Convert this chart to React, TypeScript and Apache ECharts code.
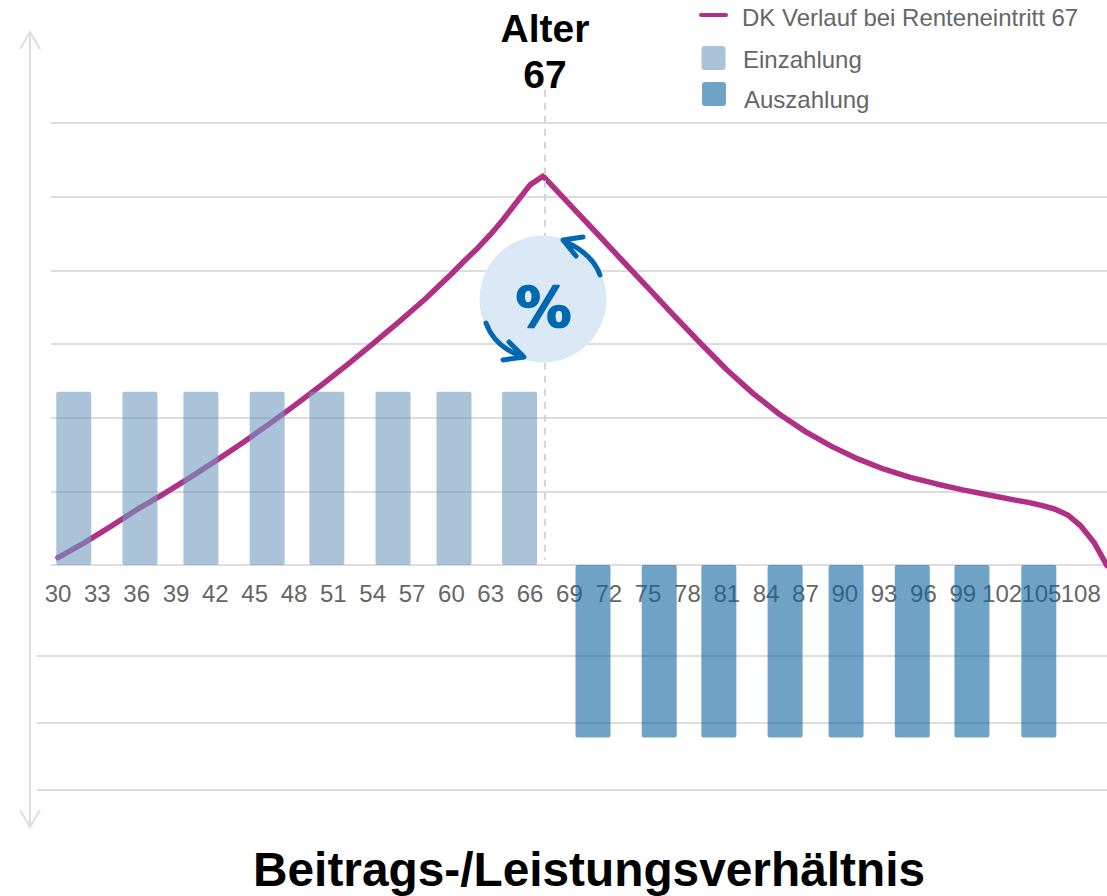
import React, { useEffect, useRef } from "react";
import * as echarts from "echarts";

const lineAges = [30,32,34,36,38,40,42,44,46,48,50,52,54,56,58,60,61,62,63,64,65,66,67,68,69,71,73,75,77,79,81,83,85,87,89,91,93,95,97,99,101,103,104,105,106,107,108,109,110];
const lineValues = [0.10,0.30,0.52,0.75,0.96,1.18,1.41,1.65,1.90,2.16,2.43,2.71,3.00,3.30,3.61,3.95,4.13,4.30,4.49,4.70,4.93,5.16,5.28,5.09,4.90,4.52,4.14,3.76,3.38,3.01,2.65,2.33,2.05,1.81,1.61,1.44,1.30,1.19,1.10,1.02,0.95,0.88,0.85,0.81,0.76,0.68,0.53,0.31,-0.01];
const payInAges = [31.2,36.25,40.9,45.95,50.5,55.55,60.2,65.2];
const payInValue = 2.35;
const payOutAges = [70.8,75.85,80.4,85.45,90.1,95.15,99.7,104.8];
const payOutValue = -2.34;
const LINE_NAME = "DK Verlauf bei Renteneintritt 67";
const IN_NAME = "Einzahlung";
const OUT_NAME = "Auszahlung";
const TITLE = "Beitrags-/Leistungsverhältnis";

const FONT = "'Liberation Sans', Arial, sans-serif";
const GRID = "#dddddd";
const BLUE = "#0067b1";

export default function App() {
  const ref = useRef<HTMLDivElement>(null);
  useEffect(() => {
    document.body.style.margin = "0";
    const chart = echarts.init(ref.current!, undefined, { renderer: "svg" });
    const arrowStyle = { stroke: BLUE, lineWidth: 5, lineCap: "round", lineJoin: "round", fill: "none" };
    const axisStyle = { stroke: GRID, lineWidth: 2, fill: "none" };
    const legendText = (text: string, x: number, y: number) => ({
      type: "text", z: 10,
      style: { text, x, y, fill: "#666666", font: `24px ${FONT}`, align: "left", verticalAlign: "middle" },
    });
    chart.setOption({
      animation: false,
      backgroundColor: "#ffffff",
      textStyle: { fontFamily: FONT },
      title: {
        text: TITLE,
        left: 584,
        top: 840,
        textAlign: "center",
        textStyle: { fontFamily: FONT, fontSize: 47.8, fontWeight: "bold", color: "#000000" },
      },
      grid: [
        { left: 58, right: 0, top: 49.3, height: 736.7 },
        { left: 51, right: 0, top: 123, height: 442 },
        { left: 37, right: 0, top: 656, height: 134 },
      ],
      xAxis: [
        {
          gridIndex: 0,
          type: "value",
          min: 30,
          max: 110,
          interval: 3,
          z: 1,
          position: "bottom",
          offset: -221,
          axisLine: { show: false, onZero: false },
          axisTick: { show: false },
          splitLine: { show: false },
          axisLabel: { color: "#666666", fontSize: 24, fontFamily: FONT, margin: 16, showMaxLabel: false },
        },
        { gridIndex: 1, type: "value", min: 0, max: 1, show: false },
        { gridIndex: 2, type: "value", min: 0, max: 1, show: false },
      ],
      yAxis: [
        { gridIndex: 0, type: "value", min: -3, max: 7, show: false, splitLine: { show: false } },
        {
          gridIndex: 1, type: "value", min: 0, max: 6, interval: 1,
          axisLine: { show: false }, axisTick: { show: false }, axisLabel: { show: false },
          splitLine: { show: true, lineStyle: { color: GRID, width: 2 } },
        },
        {
          gridIndex: 2, type: "value", min: 0, max: 2, interval: 1,
          axisLine: { show: false }, axisTick: { show: false }, axisLabel: { show: false },
          splitLine: { show: true, lineStyle: { color: GRID, width: 2 } },
        },
      ],
      series: [
        {
          name: LINE_NAME,
          type: "line",
          xAxisIndex: 0,
          yAxisIndex: 0,
          z: 2,
          smooth: false,
          showSymbol: false,
          symbol: "none",
          clip: false,
          data: lineAges.map((a, i) => [a, lineValues[i]]),
          itemStyle: { color: "#af3085" },
          lineStyle: { color: "#af3085", width: 5.5, cap: "round", join: "round" },
          markLine: {
            silent: true,
            symbol: "none",
            label: { show: false },
            lineStyle: { color: "#d4d4d4", width: 2, type: [7, 6] },
            data: [[{ coord: [67.1, 6.45] }, { coord: [67.1, 0.07] }]],
          },
        },
        {
          name: IN_NAME,
          type: "bar",
          xAxisIndex: 0,
          yAxisIndex: 0,
          z: 3,
          barWidth: 35,
          barGap: "-100%",
          data: payInAges.map((a) => [a, payInValue]),
          itemStyle: { color: "#719bc0", opacity: 0.6, borderRadius: 2 },
        },
        {
          name: OUT_NAME,
          type: "bar",
          xAxisIndex: 0,
          yAxisIndex: 0,
          z: 3,
          barWidth: 35,
          barGap: "-100%",
          data: payOutAges.map((a) => [a, payOutValue]),
          itemStyle: { color: "#0f66a0", opacity: 0.6, borderRadius: 2 },
        },
      ],
      graphic: [
        { type: "line", z: 1, shape: { x1: 30, y1: 33, x2: 30, y2: 827 }, style: axisStyle },
        { type: "polyline", z: 1, shape: { points: [[20, 49], [30, 32], [40, 49]] }, style: axisStyle },
        { type: "polyline", z: 1, shape: { points: [[20, 810], [30, 827], [40, 810]] }, style: axisStyle },
        { type: "line", z: 10, shape: { x1: 701, y1: 15, x2: 726, y2: 15 }, style: { stroke: "#af3085", lineWidth: 4, lineCap: "round" } },
        legendText(LINE_NAME, 742, 17),
        { type: "rect", z: 10, shape: { x: 701.5, y: 46, width: 24, height: 24, r: 3 }, style: { fill: "#aac3d9" } },
        legendText(IN_NAME, 743, 59),
        { type: "rect", z: 10, shape: { x: 702, y: 82, width: 24, height: 24, r: 3 }, style: { fill: "#6fa3c6" } },
        legendText(OUT_NAME, 744, 99),
        { type: "text", z: 10, style: { text: "Alter", x: 545, y: 28, fill: "#000000", font: `bold 39px ${FONT}`, align: "center", verticalAlign: "middle" } },
        { type: "text", z: 10, style: { text: "67", x: 545, y: 74, fill: "#000000", font: `bold 39px ${FONT}`, align: "center", verticalAlign: "middle" } },
        { type: "circle", z: 10, shape: { cx: 543, cy: 299, r: 63.5 }, style: { fill: "#dbe8f5" } },
        { type: "text", z: 11, style: { text: "%", x: 543.5, y: 306, fill: BLUE, stroke: BLUE, lineWidth: 1.5, font: `bold 56px 'DejaVu Sans', sans-serif`, align: "center", verticalAlign: "middle" } },
        { type: "bezierCurve", z: 11, shape: { x1: 600, y1: 275, cpx1: 594, cpy1: 258, cpx2: 580, cpy2: 248, x2: 564, y2: 241 }, style: arrowStyle },
        { type: "polyline", z: 11, shape: { points: [[583, 237], [563, 240], [576, 256]] }, style: arrowStyle },
        { type: "bezierCurve", z: 11, shape: { x1: 486, y1: 323, cpx1: 492, cpy1: 340, cpx2: 506, cpy2: 351, x2: 523, y2: 357 }, style: arrowStyle },
        { type: "polyline", z: 11, shape: { points: [[503, 360], [524, 357], [509, 342]] }, style: arrowStyle },
      ],
    });
    return () => chart.dispose();
  }, []);
  return <div ref={ref} style={{ position: "absolute", left: 0, top: 0, width: 1107, height: 896 }} />;
}
